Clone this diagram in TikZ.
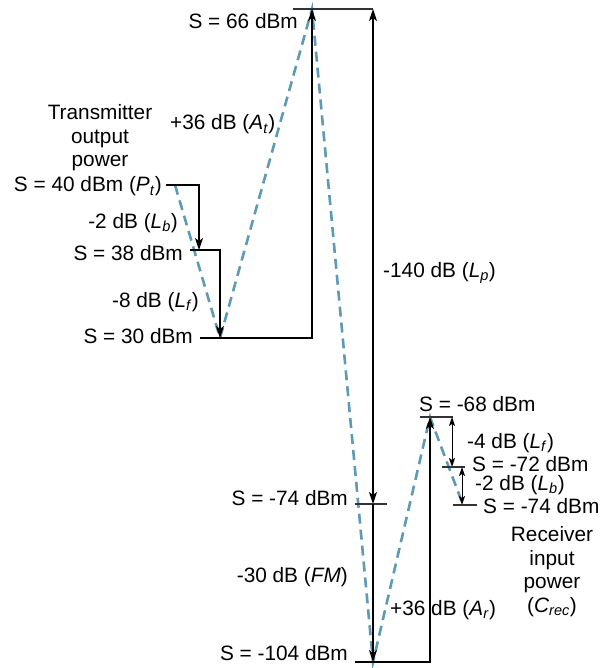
\documentclass[tikz,border=0pt]{standalone}
\usepackage{fontspec}
\setmainfont{Liberation Sans}
\usetikzlibrary{arrows.meta}
\definecolor{dashblue}{HTML}{5E9AB5}
\definecolor{linegray}{HTML}{333333}
\begin{document}
\begin{tikzpicture}[x=1pt,y=-1pt,
  lvl/.style={draw=linegray, line width=1.1pt},
  arr/.style={draw=black, line width=1.1pt, -{Stealth[length=12pt,width=8pt,inset=3pt]}},
  darr/.style={draw=black, line width=1.1pt, {Stealth[length=12pt,width=8pt,inset=3pt]}-{Stealth[length=12pt,width=8pt,inset=3pt]}},
  sdarr/.style={draw=black, line width=1pt, {Stealth[length=9pt,width=6pt,inset=2pt]}-{Stealth[length=9pt,width=6pt,inset=2pt]}},
  path/.style={draw=dashblue, line width=2.6pt, dash pattern=on 10pt off 6pt},
  lab/.style={inner sep=0pt, font=\fontsize{20.8}{24}\selectfont},
  blk/.style={inner sep=0pt, align=center, font=\fontsize{20.8}{23.5}\selectfont}]
\useasboundingbox (0,0) rectangle (603,668);

% level coordinates
\coordinate (p40a) at (166,185); \coordinate (p38arr) at (199,250);
\coordinate (p38a) at (190,250); \coordinate (p30arr) at (220,338);
\coordinate (p30a) at (200,338); \coordinate (p66arr) at (312,9);
\coordinate (p66a) at (293,9); \coordinate (p66b) at (373,9);
\coordinate (m74a) at (355,504); \coordinate (m74b) at (387,504); \coordinate (m74c) at (373,504);
\coordinate (m104a) at (355,662); \coordinate (m104c) at (373,662);
\coordinate (m68a) at (420,417); \coordinate (m68b) at (453,417); \coordinate (m68c) at (430,417); \coordinate (m68d) at (452,417);
\coordinate (m72a) at (442,467); \coordinate (m72b) at (465,467); \coordinate (m72c) at (452,467); \coordinate (m72d) at (462,467);
\coordinate (r74a) at (453,505); \coordinate (r74b) at (477,505); \coordinate (r74c) at (462,505);

% dashed signal path
\coordinate (d0) at (175,185);
\coordinate (d1) at (220,338);
\coordinate (d2) at (312,9);
\coordinate (d3) at (373,662);
\coordinate (d4) at (430,417);
\coordinate (d5) at (463,505);
\draw[path] (d0) -- (d1) -- (d2) -- (d3) -- (d4) -- (d5);

% level lines and arrows
\draw[lvl] (p66a) -- (p66b);
\draw[arr] (p40a) -| (p38arr);
\draw[arr] (p38a) -| (p30arr);
\draw[arr] (p30a) -| (p66arr);
\draw[darr] (p66b) -- (m74c);
\draw[lvl] (m74a) -- (m74b);
\draw[arr] (m74c) -- (m104c);
\draw[arr] (m104a) -| (m68c);
\draw[lvl] (m68a) -- (m68b);
\draw[sdarr] (m68d) -- (m72c);
\draw[lvl] (m72a) -- (m72b);
\draw[sdarr] (m72d) -- (r74c);
\draw[lvl] (r74a) -- (r74b);

% labels
\node[lab, anchor=base east] (t66) at (298,29) {S = 66 dBm};
\node[blk, anchor=base] (ttx) at (100,167) {Transmitter\\output\\power};
\node[lab, anchor=base west] (tAt) at (170,130) {+36 dB (\textit{A}\textsubscript{\textit{t}})};
\node[lab, anchor=base east] (t40) at (162,192) {S = 40 dBm (\textit{P}\textsubscript{\textit{t}})};
\node[lab, anchor=base east] (tLb) at (178,228) {-2 dB (\textit{L}\textsubscript{\textit{b}})};
\node[lab, anchor=base east] (t38) at (183,260) {S = 38 dBm};
\node[lab, anchor=base east] (tLf) at (199,307) {-8 dB (\textit{L}\textsubscript{\textit{f}})};
\node[lab, anchor=base east] (t30) at (193,343) {S = 30 dBm};
\node[lab, anchor=base west] (tLp) at (383,277) {-140 dB (\textit{L}\textsubscript{\textit{p}})};
\node[lab, anchor=base west] (t68) at (419,411) {S = -68 dBm};
\node[lab, anchor=base west] (tLf2) at (467,448) {-4 dB (\textit{L}\textsubscript{\textit{f}})};
\node[lab, anchor=base west] (t72) at (472,471) {S = -72 dBm};
\node[lab, anchor=base west] (tLb2) at (475,490) {-2 dB (\textit{L}\textsubscript{\textit{b}})};
\node[lab, anchor=base west] (tr74) at (483,513) {S = -74 dBm};
\node[blk, anchor=base] (trx) at (552,612) {Receiver\\input\\power\\(\textit{C}\textsubscript{\textit{rec}})};
\node[lab, anchor=base east] (tl74) at (348,505) {S = -74 dBm};
\node[lab, anchor=base east] (tFM) at (348,582) {-30 dB (\textit{FM})};
\node[lab, anchor=base west] (tAr) at (390,615) {+36 dB (\textit{A}\textsubscript{\textit{r}})};
\node[lab, anchor=base east] (t104) at (348,660) {S = -104 dBm};
\end{tikzpicture}
\end{document}
